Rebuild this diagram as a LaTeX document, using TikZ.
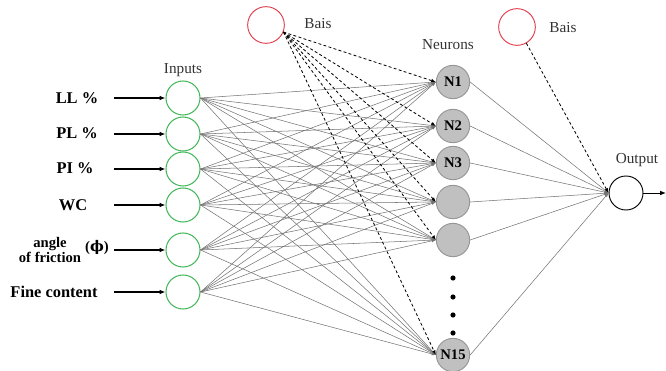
\documentclass[tikz,border=0pt]{standalone}
\usepackage{fontspec}
\setmainfont{Liberation Serif}
\newfontfamily\phifont{DejaVu Serif}
\usetikzlibrary{arrows.meta}

\definecolor{ingreen}{RGB}{70,185,95}
\definecolor{biasred}{RGB}{225,60,75}
\definecolor{hidfill}{RGB}{192,192,192}
\definecolor{hiddraw}{RGB}{150,150,150}
\definecolor{conngray}{RGB}{115,115,115}

\tikzset{
    innode/.style={circle, draw=ingreen, line width=0.9pt, minimum size=1.02cm, inner sep=0pt},
    hidnode/.style={circle, draw=hiddraw, fill=hidfill, line width=0.8pt, minimum size=1.0cm, inner sep=0pt,
        font=\fontsize{12.5}{13}\selectfont\bfseries},
    outnode/.style={circle, draw=black, line width=0.8pt, minimum size=1.02cm, inner sep=0pt},
    biasnode/.style={circle, draw=biasred, line width=0.8pt, minimum size=1.1cm, inner sep=0pt},
    varlabel/.style={font=\fontsize{14}{15}\selectfont\bfseries, inner sep=0pt},
    toplabel/.style={font=\fontsize{13}{15}\selectfont, text=black!80, inner sep=0pt},
    conn/.style={draw=conngray, line width=0.45pt, -{Latex[length=3.5pt,width=2.5pt]}},
    biasconn/.style={draw=black, line width=0.7pt, dash pattern=on 2.5pt off 2pt, -{Latex[length=4pt,width=3pt]}},
    inarrow/.style={draw=black, line width=1pt, -{Latex[length=5pt,width=4pt]}},
}

\begin{document}
\begin{tikzpicture}[x=0.03cm, y=-0.03cm]
    \useasboundingbox (0,0) rectangle (666,371);

    %----- INPUT LAYER -----
    \foreach \n/\y in {1/98, 2/134, 3/169, 4/205, 5/250, 6/292}
        \node[innode] (in\n) at (183,\y) {};

    %----- HIDDEN LAYER -----
    \node[hidnode] (h1) at (453,82)  {N1};
    \node[hidnode] (h2) at (453,126) {N2};
    \node[hidnode] (h3) at (453,163) {N3};
    \node[hidnode] (h4) at (453,202) {};
    \node[hidnode] (h5) at (453,240) {};
    \node[hidnode] (h6) at (453,355) {N15};

    % dots between the drawn neurons
    \foreach \y in {278, 297, 315, 333}
        \fill (453,\y) circle (2.2pt);

    %----- OUTPUT AND BIAS -----
    \node[outnode] (out) at (626,193) {};
    \node[biasnode] (bias1) at (266,25) {};
    \node[biasnode] (bias2) at (517,27) {};

    %----- TEXTS -----
    \node[toplabel] (tin)   at (183,70)  {Inputs};
    \node[toplabel] (thid)  at (448,45)  {Neurons};
    \node[toplabel] (tout)  at (637,160) {Output};
    \node[toplabel] (tb1)   at (318,24)  {Bais};
    \node[toplabel] (tb2)   at (563,28)  {Bais};

    \node[varlabel] (v1) at (77,98)  {LL \%};
    \node[varlabel] (v2) at (77,133) {PL \%};
    \node[varlabel] (v3) at (75,168) {PI \%};
    \node[varlabel] (v4) at (73,205) {WC};
    \node[varlabel, align=center, font=\fontsize{12.5}{13.5}\selectfont\bfseries]
        (v5) at (50,250) {angle\\of friction};
    \node[varlabel, font=\fontsize{12.5}{13}\selectfont\bfseries] (v5b) at (97,247) {({\phifont ϕ})};
    \node[varlabel] (v6) at (54,292) {Fine content};

    %----- ARROWS INTO THE INPUTS -----
    \foreach \n in {1,...,6}
        \draw[inarrow] ([xshift=-1.53cm]in\n.west) -- (in\n.west);

    %----- INPUTS TO NEURONS -----
    \foreach \i in {1,...,6}
        \foreach \j in {1,...,6}
            \draw[conn] (in\i.east) -- (h\j.west);

    %----- BIAS TO NEURONS -----
    \foreach \j in {1,...,6}
        \draw[biasconn] (bias1.-22) -- (h\j.west);

    %----- NEURONS TO OUTPUT -----
    \foreach \j in {1,...,6}
        \draw[conn] (h\j.east) -- (out.west);
    \draw[biasconn] (bias2.-60) -- (out.west);

    \coordinate (outend) at (666,193);
    \draw[draw=black, line width=0.8pt, -{Latex[length=5pt,width=4pt]}] (out.east) -- (outend);

\end{tikzpicture}
\end{document}
